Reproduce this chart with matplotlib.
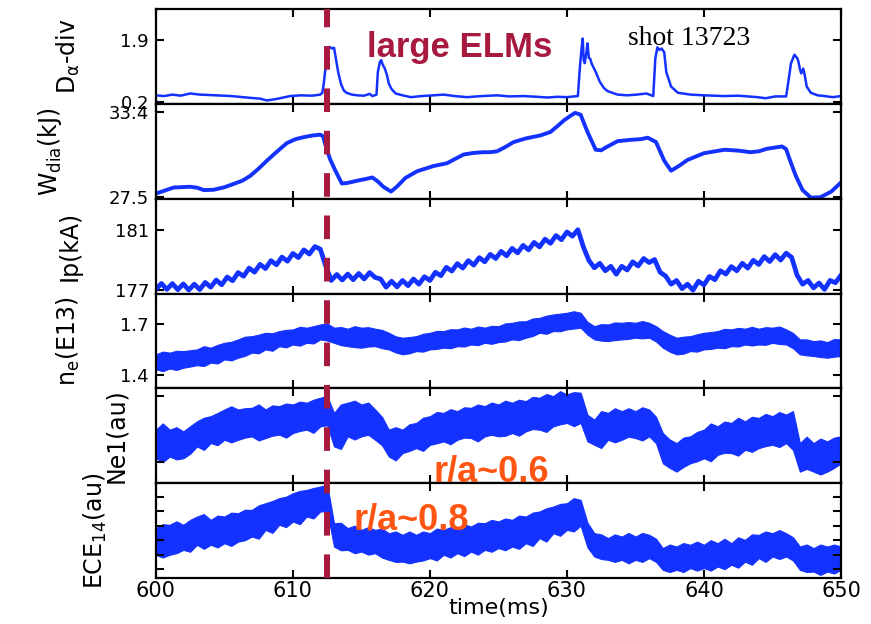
import numpy as np
import matplotlib
matplotlib.use("Agg")
import matplotlib.pyplot as plt
from matplotlib.lines import Line2D
from matplotlib import transforms

plt.rcParams['font.family'] = ['DejaVu Sans']
plt.rcParams['mathtext.default'] = 'regular'
plt.rcParams['lines.scale_dashes'] = False

BLUE = '#1432ff'
ELM_RED = '#a8193f'
ORANGE = '#ff5512'

# ---- data ----
elm_time = 612.5

# D-alpha divertor signal
da_t = [600.0, 600.6, 601.2, 601.8, 602.5, 603.2, 604.4, 605.5, 606.9, 607.6, 608.1, 608.8, 609.8,
        610.6, 611.4, 612.0, 612.15, 612.25, 612.4, 612.55, 612.7, 612.85, 613.0, 613.1, 613.3,
        613.5, 613.7, 613.9, 614.3, 614.7, 615.2, 615.6, 615.8, 616.1, 616.2, 616.35, 616.45,
        616.55, 616.7, 616.86, 617.0, 617.2, 617.5, 618.0, 618.6, 619.4, 620.25, 621.0, 621.8,
        622.7, 623.8, 624.9, 625.8, 626.8, 627.8, 628.6, 629.3, 630.0, 630.8, 630.95, 631.05,
        631.15, 631.22, 631.3, 631.4, 631.5, 631.6, 631.7, 631.8, 632.1, 632.4, 632.7, 632.95,
        633.3, 633.7, 634.4, 635.1, 635.8, 636.3, 636.45, 636.6, 636.75, 636.9, 637.1, 637.25,
        637.6, 638.1, 639.0, 640.0, 641.5, 642.5, 643.9, 644.5, 645.2, 646.0, 646.2, 646.35,
        646.6, 646.8, 646.9, 647.0, 647.1, 647.25, 647.35, 647.5, 647.8, 648.3, 648.8, 649.4, 650.0]
da_v = [0.38, 0.36, 0.40, 0.37, 0.43, 0.40, 0.38, 0.36, 0.31, 0.29, 0.24, 0.28, 0.36,
        0.38, 0.37, 0.40, 0.45, 0.70, 1.20, 1.62, 1.70, 1.66, 1.68, 1.47, 1.02,
        0.70, 0.52, 0.45, 0.40, 0.38, 0.37, 0.42, 0.36, 0.40, 1.02, 1.30, 1.34,
        1.22, 1.12, 0.94, 0.70, 0.55, 0.43, 0.38, 0.33, 0.36, 0.38, 0.40, 0.36,
        0.33, 0.36, 0.38, 0.35, 0.36, 0.34, 0.32, 0.34, 0.33, 0.36, 1.17, 1.60,
        1.93, 1.35, 1.26, 1.50, 1.80, 1.40, 1.38, 1.25, 1.02, 0.75, 0.58, 0.50,
        0.45, 0.40, 0.38, 0.40, 0.43, 0.36, 1.38, 1.69, 1.62, 1.66, 1.56, 1.02,
        0.62, 0.45, 0.40, 0.38, 0.36, 0.37, 0.33, 0.30, 0.35, 0.35, 0.85, 1.25,
        1.49, 1.40, 1.30, 1.10, 0.98, 1.11, 0.95, 0.62, 0.45, 0.38, 0.36, 0.33, 0.36]

# diamagnetic stored energy (kJ)
w_t = [600.0, 600.6, 601.3, 602.5, 603.0, 603.5, 604.2, 605.0, 605.65, 606.3, 606.9, 607.5, 608.1,
       608.8, 609.55, 610.2, 610.8, 611.4, 612.0, 612.2, 612.35, 612.7, 613.1, 613.57, 614.0,
       614.67, 615.3, 615.8, 616.2, 616.6, 617.16, 617.6, 618.2, 619.06, 620.27, 621.25, 621.8,
       622.46, 623.2, 623.9, 624.4, 624.9, 625.5, 626.1, 627.0, 628.07, 628.8, 629.3, 629.8,
       630.3, 630.6, 631.0, 631.5, 632.1, 632.5, 632.8, 633.7, 634.65, 635.4, 635.9, 636.5,
       637.1, 637.6, 638.2, 638.8, 640.0, 641.5, 642.5, 643.4, 644.0, 644.6, 645.7, 646.0,
       646.2, 646.7, 647.2, 647.8, 648.5, 649.3, 650.0]
w_v = [27.71, 27.90, 28.13, 28.18, 28.12, 27.95, 27.97, 28.15, 28.37, 28.60, 28.95, 29.45, 30.00,
       30.60, 31.22, 31.50, 31.64, 31.75, 31.81, 31.70, 31.18, 30.13, 29.30, 28.41, 28.45,
       28.60, 28.72, 28.83, 28.55, 28.18, 27.85, 28.20, 28.79, 29.26, 29.63, 29.82, 30.10,
       30.43, 30.54, 30.59, 30.59, 30.65, 30.95, 31.29, 31.55, 31.76, 32.00, 32.40, 32.82,
       33.15, 33.33, 33.20, 32.00, 30.76, 30.72, 30.90, 31.36, 31.45, 31.50, 31.60, 31.30,
       30.00, 29.30, 29.65, 30.05, 30.52, 30.76, 30.70, 30.59, 30.65, 30.83, 30.99, 30.80,
       30.24, 28.95, 27.95, 27.43, 27.45, 27.85, 28.48]

# plasma current (kA), sampled every 0.4 ms
ip_v = [177.05, 177.45, 177.05, 177.44, 177.03, 177.42, 177.01, 177.40, 177.04, 177.52,
        177.20, 177.68, 177.36, 177.88, 177.63, 178.18, 177.93, 178.48, 178.21, 178.73,
        178.45, 178.98, 178.70, 179.22, 178.94, 179.46, 179.18, 179.70, 179.42, 179.92,
        179.75, 178.60, 177.65, 178.05, 177.68, 178.08, 177.70, 178.12, 177.75, 178.18,
        177.85, 177.75, 177.20, 177.60, 177.22, 177.65, 177.30, 177.75, 177.40, 177.90,
        177.65, 178.20, 177.97, 178.53, 178.28, 178.78, 178.48, 178.98, 178.68, 179.18,
        178.90, 179.40, 179.12, 179.60, 179.30, 179.80, 179.50, 180.00, 179.70, 180.20,
        179.90, 180.42, 180.14, 180.66, 180.38, 180.90, 180.62, 181.05, 179.90, 179.00,
        178.50, 178.80, 178.30, 178.60, 178.07, 178.60, 178.35, 178.90, 178.62, 179.12,
        178.85, 179.05, 178.20, 177.95, 177.40, 177.65, 177.10, 177.40, 177.00, 177.60,
        177.35, 177.92, 177.70, 178.30, 178.08, 178.58, 178.30, 178.80, 178.48, 179.00,
        178.72, 179.25, 178.92, 179.38, 179.02, 179.48, 179.20, 178.00, 177.40, 177.65,
        177.15, 177.48, 177.05, 177.65, 177.50, 178.00]

# line-averaged density (1e13 cm^-3), upper / lower edge of noisy trace every 0.5 ms
ne_hi = [1.524, 1.540, 1.534, 1.545, 1.543, 1.548, 1.553, 1.572, 1.563, 1.580,
         1.592, 1.598, 1.612, 1.628, 1.631, 1.640, 1.651, 1.648, 1.661, 1.668,
         1.671, 1.686, 1.681, 1.690, 1.700, 1.706, 1.681, 1.685, 1.675, 1.690,
         1.681, 1.684, 1.675, 1.668, 1.651, 1.630, 1.622, 1.626, 1.631, 1.645,
         1.651, 1.662, 1.661, 1.672, 1.671, 1.682, 1.675, 1.688, 1.681, 1.692,
         1.690, 1.706, 1.710, 1.718, 1.719, 1.735, 1.739, 1.752, 1.759, 1.764,
         1.769, 1.778, 1.769, 1.715, 1.690, 1.702, 1.700, 1.712, 1.710, 1.714,
         1.710, 1.720, 1.710, 1.690, 1.661, 1.640, 1.622, 1.628, 1.631, 1.642,
         1.651, 1.655, 1.661, 1.674, 1.671, 1.680, 1.675, 1.686, 1.675, 1.684,
         1.681, 1.688, 1.671, 1.650, 1.612, 1.612, 1.602, 1.606, 1.596, 1.614, 1.612]
ne_lo = [1.435, 1.425, 1.440, 1.432, 1.445, 1.452, 1.460, 1.455, 1.475, 1.470,
         1.494, 1.488, 1.504, 1.515, 1.534, 1.530, 1.553, 1.545, 1.572, 1.565,
         1.582, 1.575, 1.592, 1.588, 1.612, 1.605, 1.592, 1.578, 1.572, 1.566,
         1.563, 1.570, 1.572, 1.560, 1.553, 1.535, 1.524, 1.530, 1.543, 1.540,
         1.553, 1.556, 1.563, 1.560, 1.572, 1.570, 1.582, 1.578, 1.592, 1.586,
         1.596, 1.600, 1.612, 1.608, 1.622, 1.632, 1.651, 1.645, 1.661, 1.660,
         1.671, 1.676, 1.681, 1.640, 1.612, 1.605, 1.602, 1.608, 1.612, 1.615,
         1.622, 1.618, 1.622, 1.600, 1.563, 1.540, 1.524, 1.528, 1.543, 1.540,
         1.553, 1.556, 1.563, 1.560, 1.572, 1.570, 1.582, 1.576, 1.582, 1.580,
         1.592, 1.585, 1.582, 1.560, 1.524, 1.518, 1.514, 1.508, 1.504, 1.510, 1.514]

# Ne1 interferometer chord (au)
ne1_hi = [5.64, 6.30, 5.64, 5.90, 5.46, 6.00, 6.52, 6.90, 7.06, 7.40,
          7.77, 8.10, 7.77, 7.90, 7.94, 8.30, 7.77, 8.20, 8.12, 8.40,
          8.30, 8.60, 8.48, 8.80, 9.01, 9.20, 7.41, 8.30, 8.48, 8.70,
          8.30, 8.50, 7.77, 7.00, 5.64, 5.90, 5.64, 6.20, 6.35, 6.90,
          7.06, 7.50, 7.41, 7.80, 7.59, 8.00, 7.94, 8.30, 8.12, 8.50,
          8.30, 8.70, 8.48, 8.80, 8.65, 9.10, 9.01, 9.40, 9.18, 9.70,
          9.36, 9.60, 9.54, 7.20, 6.70, 7.60, 7.41, 7.90, 7.59, 7.90,
          7.59, 8.00, 7.77, 7.00, 5.28, 4.60, 4.22, 4.80, 4.93, 5.40,
          5.64, 6.30, 5.99, 6.50, 6.35, 6.90, 6.52, 7.00, 6.88, 7.30,
          7.06, 7.50, 7.23, 7.60, 4.22, 4.90, 4.22, 4.70, 4.40, 4.80, 4.93]
ne1_lo = [2.62, 2.20, 2.80, 2.50, 2.62, 3.10, 3.87, 3.50, 4.22, 4.00,
          4.57, 4.30, 4.57, 4.80, 4.93, 4.50, 4.75, 5.00, 5.11, 4.80,
          5.28, 5.50, 5.64, 5.30, 5.99, 6.10, 3.87, 3.60, 4.93, 4.60,
          4.93, 5.10, 4.57, 4.00, 2.80, 2.40, 3.16, 3.40, 3.69, 3.40,
          4.04, 4.20, 4.40, 4.10, 4.57, 4.80, 4.75, 4.40, 4.93, 5.10,
          4.93, 5.00, 5.28, 5.00, 5.46, 5.70, 5.64, 5.40, 5.99, 6.20,
          6.35, 6.00, 6.35, 4.40, 4.04, 3.70, 4.57, 4.30, 4.57, 4.90,
          4.75, 4.50, 4.93, 4.20, 2.09, 1.60, 1.21, 1.70, 2.09, 2.30,
          2.62, 2.30, 2.98, 3.20, 3.16, 2.90, 3.51, 3.30, 3.69, 3.90,
          4.04, 3.80, 4.22, 3.50, 1.21, 1.50, 1.21, 0.90, 1.21, 1.60, 2.09]

# ECE channel 14 (au)
ece_hi = [3.83, 4.10, 4.06, 4.30, 4.06, 4.40, 4.63, 4.80, 4.40, 4.70,
          4.63, 4.90, 4.86, 5.10, 5.09, 5.40, 5.55, 5.70, 5.90, 6.00,
          6.24, 6.40, 6.47, 6.60, 6.70, 6.85, 4.17, 4.20, 3.83, 4.00,
          3.71, 3.90, 3.71, 3.80, 3.48, 3.60, 3.37, 3.60, 3.37, 3.60,
          3.48, 3.80, 3.71, 3.90, 3.83, 4.10, 3.94, 4.20, 4.17, 4.40,
          4.29, 4.50, 4.40, 4.70, 4.63, 4.90, 4.98, 5.20, 5.32, 5.50,
          5.55, 5.90, 5.78, 4.20, 3.48, 3.40, 3.14, 3.40, 3.25, 3.50,
          3.25, 3.50, 3.37, 3.10, 2.45, 2.70, 2.56, 2.80, 2.68, 2.90,
          2.68, 3.00, 2.79, 3.10, 2.79, 3.20, 3.02, 3.40, 3.37, 3.60,
          3.48, 3.70, 3.48, 3.20, 2.56, 2.70, 2.45, 2.70, 2.56, 2.70, 2.56]
ece_lo = [1.99, 1.80, 1.99, 2.10, 2.33, 2.20, 2.68, 2.40, 2.68, 2.50,
          2.79, 2.60, 2.90, 3.00, 3.25, 3.10, 3.71, 3.50, 4.06, 3.90,
          4.29, 4.10, 4.63, 4.50, 4.98, 5.00, 2.56, 2.30, 2.33, 2.10,
          2.21, 2.00, 2.10, 1.80, 1.64, 1.50, 1.52, 1.40, 1.52, 1.60,
          1.76, 1.60, 1.99, 1.80, 2.10, 1.90, 2.21, 2.00, 2.33, 2.20,
          2.45, 2.30, 2.56, 2.40, 2.79, 2.60, 3.14, 2.90, 3.48, 3.30,
          3.71, 3.60, 4.00, 2.50, 1.87, 1.70, 1.64, 1.50, 1.64, 1.40,
          1.64, 1.50, 1.76, 1.50, 0.95, 0.80, 0.95, 0.80, 1.07, 0.90,
          1.07, 0.90, 1.18, 1.00, 1.30, 1.10, 1.52, 1.30, 1.76, 1.50,
          1.87, 1.70, 1.87, 1.60, 0.95, 0.80, 0.83, 0.60, 0.83, 0.70, 0.95]

ylabels = [r'D$_\alpha$-div', r'W$_{dia}$(kJ)', 'Ip(kA)', r'n$_e$(E13)', 'Ne1(au)', r'ECE$_{14}$(au)']
ylims = [(0.14, 2.73), (27.34, 33.94), (176.77, 183.12), (1.3235, 1.882), (0.0, 10.0), (0.4, 6.94)]
yticks = [[0.2, 1.9], [27.5, 33.4], [177, 181], [1.4, 1.7], [2.2, 9.2], [1, 2, 3, 4, 5, 6]]
ytick_labels = [['0.2', '1.9'], ['27.5', '33.4'], ['177', '181'], ['1.4', '1.7'], [], []]
label_x = [-0.108, -0.134, -0.108, -0.108, -0.040, -0.068]
xticks = [600, 610, 620, 630, 640, 650]

# ---- figure ----
fig = plt.figure(figsize=(8.71, 6.24), dpi=100)
axs = fig.subplots(6, 1, sharex=True, gridspec_kw=dict(hspace=0))
fig.subplots_adjust(left=0.179, right=0.9655, top=0.985, bottom=0.074)

ip_t = np.linspace(600, 650, len(ip_v))
t_half = np.linspace(600, 650, len(ne_hi))

axs[0].plot(da_t, da_v, color=BLUE, lw=1.8)
axs[1].plot(w_t, w_v, color=BLUE, lw=2.8)
axs[2].plot(ip_t, ip_v, color=BLUE, lw=3.4)
for ax, hi, lo in [(axs[3], ne_hi, ne_lo), (axs[4], ne1_hi, ne1_lo), (axs[5], ece_hi, ece_lo)]:
    ax.fill_between(t_half, lo, hi, color=BLUE, lw=0.8, edgecolor=BLUE)

for i, ax in enumerate(axs):
    ax.set_xlim(600, 650)
    ax.set_ylim(*ylims[i])
    ax.set_yticks(yticks[i])
    if ytick_labels[i]:
        ax.set_yticklabels(ytick_labels[i])
    else:
        ax.set_yticklabels([])
    ax.set_xticks(xticks)
    ax.tick_params(direction='in', top=True, right=True, length=6, width=1.5,
                   labelsize=13, pad=5)
    for sp in ax.spines.values():
        sp.set_linewidth(1.6)
    ax.set_ylabel(ylabels[i], fontsize=17)
    ax.yaxis.set_label_coords(label_x[i], 0.5)

axs[-1].tick_params(axis='x', labelsize=15, pad=2)
axs[-1].set_xlabel('time(ms)', fontsize=16, labelpad=-2)

# ELM marker across all panels
trans = transforms.blended_transform_factory(axs[0].transData, fig.transFigure)
fig.add_artist(Line2D([elm_time, elm_time], [0.074, 0.985], transform=trans,
                      color=ELM_RED, lw=4.3, dashes=(17, 13.5), solid_capstyle='butt',
                      dash_capstyle='butt'))

axs[0].text(615.4, 1.42, 'large ELMs', color=ELM_RED, fontsize=25, fontweight='bold',
            family='Liberation Sans', ha='left', va='baseline')
axs[0].text(638.9, 1.75, 'shot 13723', color='black', fontsize=20,
            family='Liberation Serif', ha='center', va='baseline')
axs[4].text(620.25, 0.15, 'r/a~0.6', color=ORANGE, fontsize=26, fontweight='bold',
            family='Liberation Sans', ha='left', va='baseline', zorder=5)
axs[5].text(614.4, 3.71, 'r/a~0.8', color=ORANGE, fontsize=26, fontweight='bold',
            family='Liberation Sans', ha='left', va='baseline', zorder=5)

fig.savefig('out.png', dpi=100)
